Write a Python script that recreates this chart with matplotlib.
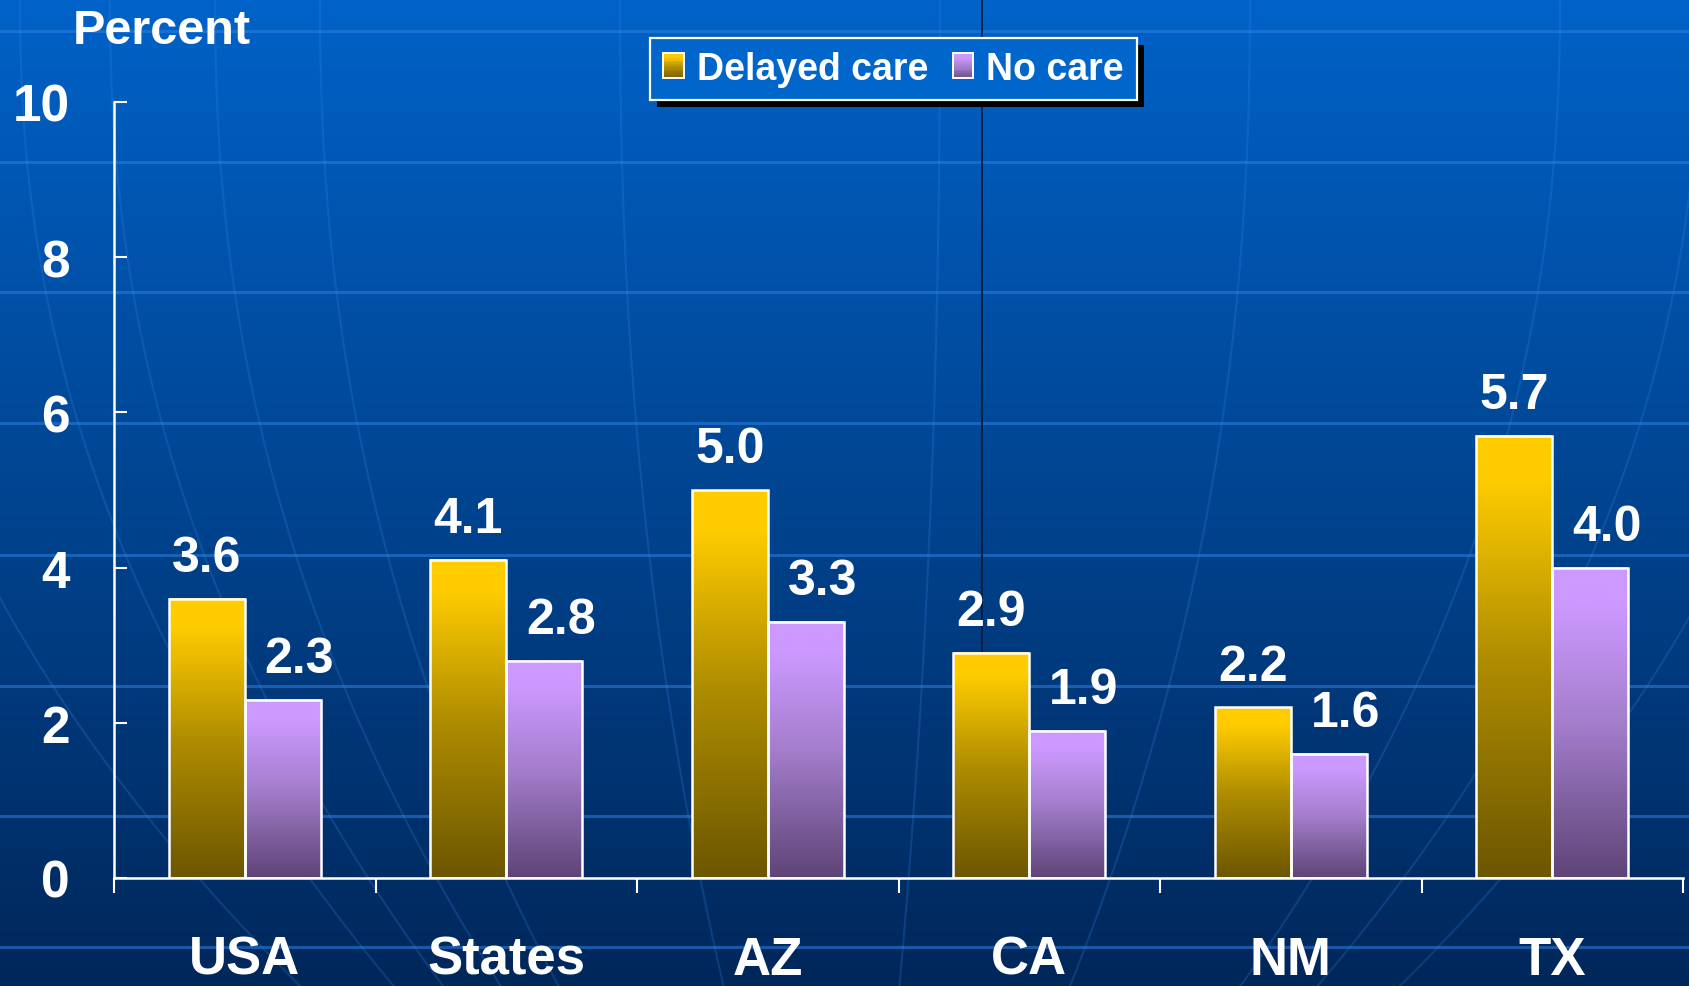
import numpy as np
import matplotlib
matplotlib.use('Agg')
import matplotlib.pyplot as plt
from matplotlib.colors import LinearSegmentedColormap, to_rgb
from matplotlib.patches import Rectangle, Patch
from matplotlib.legend_handler import HandlerBase

# data
categories = ['USA', 'States', 'AZ', 'CA', 'NM', 'TX']
delayed_care = [3.6, 4.1, 5.0, 2.9, 2.2, 5.7]
no_care = [2.3, 2.8, 3.3, 1.9, 1.6, 4.0]
series_names = ['Delayed care', 'No care']
yticks = [0, 2, 4, 6, 8, 10]

plt.rcParams['font.family'] = ['Liberation Sans', 'DejaVu Sans']
plt.rcParams['font.weight'] = 'bold'

W, H = 1689, 987
fig = plt.figure(figsize=(W / 100, H / 100), dpi=100)

# background: blue gradient + grid-ish lines + faint globe curves
bg = fig.add_axes([0, 0, 1, 1], zorder=-5)
bg.set_xlim(0, W)
bg.set_ylim(H, 0)
bg.axis('off')
top_c = np.array(to_rgb('#0062C8'))
bot_c = np.array(to_rgb('#00275A'))
t = np.linspace(0, 1, 256)[:, None]
grad = top_c * (1 - t) + bot_c * t
bg.imshow(grad[:, None, :].repeat(2, axis=1), extent=[0, W, H, 0], aspect='auto')
for yy in [32, 163, 293, 424, 556, 687, 817, 948]:
    bg.axhline(yy, color='#2C7FE0', lw=2.2, alpha=0.55)
yy = np.linspace(0, H, 200)
for x0 in [-150, 20, 110, 215, 320, 620, 940, 1250, 1560, 1700, 1850]:
    k = 0.45 * (yy / H) ** 2.2
    xx = 850 + (x0 - 850) * (1 - k)
    bg.plot(xx, yy, color='#3A8CF0', lw=1.5, alpha=0.22)
bg.plot([982, 982], [0, 879], color='#061a3a', lw=1.2)

# main chart
ax = fig.add_axes([114 / W, 1 - 879 / H, (1683 - 114) / W, (879 - 103) / H])
ax.patch.set_visible(False)

cmap_gold = LinearSegmentedColormap.from_list('gold', [(0, '#6C5600'), (0.5, '#B08E00'), (0.9, '#FFCC00'), (1, '#FFCC00')])
cmap_lav = LinearSegmentedColormap.from_list('lav', [(0, '#5E4476'), (0.5, '#A47ECC'), (0.88, '#CC99FF'), (1, '#CC99FF')])
gvals = np.linspace(0, 1, 256)[:, None]

x = np.arange(len(categories))
bw = 0.29
# (values, colormap, bar offset, label x shift in points)
for vals, cm, off, dx in [(delayed_care, cmap_gold, -bw / 2, 0), (no_care, cmap_lav, bw / 2, 12)]:
    bars = ax.bar(x + off, vals, bw, facecolor='none', edgecolor='white', lw=1.8, zorder=3)
    for b, v in zip(bars, vals):
        x0 = b.get_x()
        ax.imshow(gvals, cmap=cm, origin='lower', extent=[x0, x0 + bw, 0, v], aspect='auto', zorder=2)
        ax.annotate(f'{v:.1f}', (x0 + bw / 2, v), xytext=(dx, 20), textcoords='offset points',
                    ha='center', va='baseline', color='white', fontsize=36, fontweight='bold')

ax.set_xlim(-0.5, 5.5)
ax.set_ylim(0, 10)
ax.set_aspect('auto')

for s in ['top', 'right']:
    ax.spines[s].set_visible(False)
for s in ['left', 'bottom']:
    ax.spines[s].set_color('white')
    ax.spines[s].set_linewidth(1.8)

ax.set_yticks(yticks)
ax.set_yticklabels([str(v) for v in yticks])
ax.tick_params(axis='y', direction='in', length=9, width=1.5, colors='white', labelsize=37, pad=32)
ax.set_xticks(x)
ax.set_xticklabels(categories)
ax.set_xticks(np.arange(-0.5, 6, 1), minor=True)
ax.tick_params(axis='x', which='major', length=0, colors='white', labelsize=38, pad=41)
ax.tick_params(axis='x', which='minor', direction='out', length=11, width=1.5, colors='white')
for lab in ax.get_xticklabels() + ax.get_yticklabels():
    lab.set_fontweight('bold')

fig.text(73 / W, 1 - 32 / H, 'Percent', color='white', fontsize=35, fontweight='bold', va='center', ha='left')


# legend with gradient squares
class GradHandler(HandlerBase):
    def __init__(self, cm):
        super().__init__()
        self.cm = cm

    def create_artists(self, legend, orig_handle, xdescent, ydescent, width, height, fontsize, trans):
        arts = []
        n = 14
        for k in range(n):
            arts.append(Rectangle((-xdescent, -ydescent + k * height / n), width, height / n + 0.3,
                                  facecolor=self.cm(0.1 + 0.9 * k / (n - 1)), edgecolor='none', transform=trans))
        arts.append(Rectangle((-xdescent, -ydescent), width, height, fill=False, edgecolor='white',
                              lw=1.4, transform=trans))
        return arts


h1 = Patch(label=series_names[0])
h2 = Patch(label=series_names[1])
leg = fig.legend(handles=[h1, h2], handler_map={h1: GradHandler(cmap_gold), h2: GradHandler(cmap_lav)},
                 loc='upper left', bbox_to_anchor=(650 / W, 1 - 39 / H), borderaxespad=0, ncol=2,
                 prop={'weight': 'bold', 'size': 27}, labelcolor='white',
                 frameon=True, fancybox=False, facecolor='#0066CC', edgecolor='white', framealpha=1,
                 handlelength=0.55, handleheight=0.65, handletextpad=0.35, columnspacing=0.65,
                 borderpad=0.35)
leg.get_frame().set_linewidth(1.6)

# drop shadow behind the legend
fig.canvas.draw()
bb = leg.get_window_extent()
fig.patches.append(Rectangle((bb.x0 + 7, bb.y0 - 7), bb.width, bb.height, facecolor='black',
                             edgecolor='none', transform=None, zorder=-1, figure=fig))

fig.savefig('out.png', dpi=100)
